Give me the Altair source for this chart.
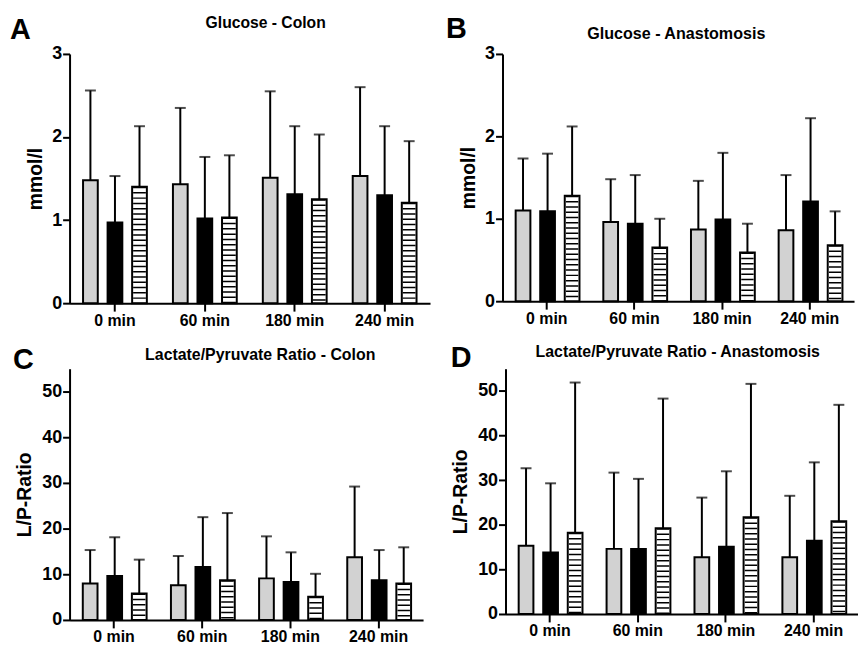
import altair as alt
import pandas as pd

FONT = "Liberation Sans"

times = ["0 min", "60 min", "180 min", "240 min"]
groups = ["Group 1", "Group 2", "Group 3"]
fills = ["#d2d2d2", "#000000", "#ffffff"]

# Panel A: Glucose - Colon (mmol/l)
a_g1_mean = [1.48, 1.43, 1.51, 1.53]
a_g1_sd = [1.08, 0.92, 1.04, 1.07]
a_g2_mean = [0.97, 1.02, 1.31, 1.30]
a_g2_sd = [0.56, 0.74, 0.82, 0.83]
a_g3_mean = [1.40, 1.03, 1.25, 1.21]
a_g3_sd = [0.73, 0.75, 0.78, 0.74]

# Panel B: Glucose - Anastomosis (mmol/l)
b_g1_mean = [1.10, 0.96, 0.87, 0.86]
b_g1_sd = [0.63, 0.52, 0.59, 0.67]
b_g2_mean = [1.09, 0.94, 0.99, 1.21]
b_g2_sd = [0.70, 0.59, 0.81, 1.01]
b_g3_mean = [1.28, 0.65, 0.59, 0.68]
b_g3_sd = [0.84, 0.35, 0.35, 0.41]

# Panel C: Lactate/Pyruvate Ratio - Colon
c_g1_mean = [8.0, 7.6, 9.1, 13.7]
c_g1_sd = [7.3, 6.4, 9.2, 15.5]
c_g2_mean = [9.6, 11.6, 8.3, 8.7]
c_g2_sd = [8.5, 10.9, 6.5, 6.6]
c_g3_mean = [5.8, 8.7, 5.1, 8.0]
c_g3_sd = [7.4, 14.7, 5.0, 7.9]

# Panel D: Lactate/Pyruvate Ratio - Anastomosis
d_g1_mean = [15.3, 14.6, 12.7, 12.7]
d_g1_sd = [17.4, 17.1, 13.4, 13.8]
d_g2_mean = [13.8, 14.6, 15.1, 16.4]
d_g2_sd = [15.5, 15.7, 16.9, 17.6]
d_g3_mean = [18.2, 19.2, 21.7, 20.8]
d_g3_sd = [33.7, 29.1, 29.9, 26.1]

glucose_ticks = [0, 1, 2, 3]
lp_ticks = [0, 10, 20, 30, 40, 50]

X_PI, X_PO = 0.29, 0.15
O_PI = 0.4


def make_df(means, sds):
    rows = []
    for gi, g in enumerate(groups):
        for ti, t in enumerate(times):
            m = means[gi][ti]
            rows.append({"time": t, "group": g, "mean": m, "top": m + sds[gi][ti]})
    return pd.DataFrame(rows)


def panel(letter, title, ytitle, means, sds, domain, ticks, width, height,
          letter_x, letter_y, title_y, title_dx, title_size, ytitle_pad):
    df = make_df(means, sds)
    step = width / (len(times) - X_PI + 2 * X_PO)
    band = step * (1 - X_PI)
    ostep = band / (len(groups) - O_PI)
    bar_w = ostep * (1 - O_PI)
    stripe_w = bar_w - 2

    xaxis = alt.Axis(title=None, labelAngle=0, grid=False, domainWidth=2,
                     domainColor="black", tickWidth=2, tickColor="black",
                     tickSize=8, labelPadding=1, labelFont=FONT,
                     labelFontSize=16, labelFontWeight="bold",
                     labelColor="black")
    yaxis = alt.Axis(title=ytitle, values=ticks, format="d", grid=False,
                     domainWidth=2, domainColor="black", tickWidth=2,
                     tickColor="black", tickSize=7, labelPadding=1,
                     labelFont=FONT, labelFontSize=18, labelFontWeight="bold",
                     labelColor="black", titleFont=FONT, titleFontSize=19.5,
                     titleFontWeight="bold", titleColor="black",
                     titlePadding=ytitle_pad)
    x = alt.X("time:N", sort=times,
              scale=alt.Scale(domain=times, paddingInner=X_PI, paddingOuter=X_PO),
              axis=xaxis)
    xo = alt.XOffset("group:N", sort=groups,
                     scale=alt.Scale(domain=groups, paddingInner=O_PI, paddingOuter=0))
    y = alt.Y("mean:Q", scale=alt.Scale(domain=domain, nice=False, zero=True),
              axis=yaxis)

    base = alt.Chart(df)
    bars = base.mark_bar(stroke="black", strokeWidth=2).encode(
        x=x, xOffset=xo, y=y,
        fill=alt.Fill("group:N", scale=alt.Scale(domain=groups, range=fills),
                      legend=None),
    )
    stripes = base.transform_filter(alt.datum.group == groups[2]).mark_rule(
        color="black", strokeWidth=stripe_w, strokeDash=[1.5, 3.8]
    ).encode(x=x, xOffset=xo, y=alt.Y("mean:Q"), y2=alt.datum(0))
    err = base.mark_rule(color="black", strokeWidth=2).encode(
        x=x, xOffset=xo, y=alt.Y("mean:Q"), y2=alt.Y2("top:Q"))
    cap = base.mark_tick(color="black", thickness=2, size=11).encode(
        x=x, xOffset=xo, y=alt.Y("top:Q"))
    lab = alt.Chart(pd.DataFrame({"label": [letter]})).mark_text(
        font=FONT, fontSize=29, fontWeight="bold", align="left",
        baseline="alphabetic", color="black"
    ).encode(text="label:N", x=alt.value(letter_x), y=alt.value(letter_y))
    ttl = alt.Chart(pd.DataFrame({"label": [title]})).mark_text(
        font=FONT, fontSize=title_size, fontWeight="bold", align="center",
        baseline="alphabetic", color="black"
    ).encode(text="label:N", x=alt.value(width / 2 + title_dx),
             y=alt.value(title_y))

    return alt.layer(bars, stripes, err, cap, lab, ttl).properties(
        width=width, height=height,
    )


pa = panel("A", "Glucose - Colon", "mmol/l",
           [a_g1_mean, a_g2_mean, a_g3_mean], [a_g1_sd, a_g2_sd, a_g3_sd],
           [0, 3], glucose_ticks, 363, 251, -60, -15, -26, 16, 15.8, 6)
pb = panel("B", "Glucose - Anastomosis", "mmol/l",
           [b_g1_mean, b_g2_mean, b_g3_mean], [b_g1_sd, b_g2_sd, b_g3_sd],
           [0, 3], glucose_ticks, 354, 249, -57, -16, -15, -2, 16.2, 6)
pc = panel("C", "Lactate/Pyruvate Ratio - Colon", "L/P-Ratio",
           [c_g1_mean, c_g2_mean, c_g3_mean], [c_g1_sd, c_g2_sd, c_g3_sd],
           [0, 55], lp_ticks, 356, 253, -57, 0, -9, 14, 16, 7)
pd_ = panel("D", "Lactate/Pyruvate Ratio - Anastomosis", "L/P-Ratio",
            [d_g1_mean, d_g2_mean, d_g3_mean], [d_g1_sd, d_g2_sd, d_g3_sd],
            [0, 55], lp_ticks, 355, 247, -55, -2, -12, -4, 16, 7)

chart = alt.vconcat(
    alt.hconcat(pa, pb, spacing=16),
    alt.hconcat(pc, pd_, spacing=27),
    spacing=16,
).properties(
    padding={"left": 2, "top": 5, "right": 0, "bottom": 0}
).configure_view(strokeWidth=0)

chart.save("out.html", embed_options={"renderer": "svg", "actions": False})
